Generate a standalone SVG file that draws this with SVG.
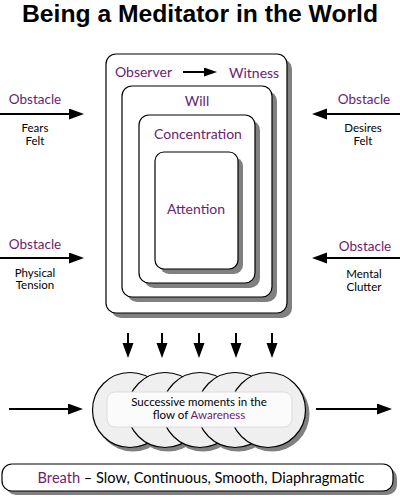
<svg xmlns="http://www.w3.org/2000/svg" width="400" height="499" viewBox="0 0 400 499">
<style>
text{font-family:Lato,"Open Sans","Liberation Sans",sans-serif;}
.t{font-family:"Liberation Sans",Arial,sans-serif;font-size:23px;font-weight:bold;fill:#000;}
.p{fill:#6b2370;font-size:14px;}
.ob{fill:#6b2370;font-size:13.5px;}
.s{fill:#000;font-size:11.5px;}
.box{fill:#fff;stroke:#000;stroke-width:1.2;}
.sh{fill:#808080;}
.ar{stroke:#000;stroke-width:2;fill:none;}
.cir{fill:#efefef;stroke:#000;stroke-width:1.2;}
</style>
<defs>
<marker id="ah" markerUnits="userSpaceOnUse" markerWidth="16" markerHeight="12" refX="8" refY="5.5" orient="auto">
<path d="M0,0 L15,5.5 L0,11 z" fill="#000"/>
</marker>
<marker id="ahs" markerUnits="userSpaceOnUse" markerWidth="14" markerHeight="10" refX="7" refY="4.5" orient="auto">
<path d="M0,0 L13,4.5 L0,9 z" fill="#000"/>
</marker>
</defs>
<rect width="400" height="499" fill="#fff"/>
<text class="t" x="200" y="22" text-anchor="middle" textLength="356" lengthAdjust="spacingAndGlyphs">Being a Meditator in the World</text>

<g id="observer-box">
<rect class="sh" x="111" y="59" width="181" height="259" rx="10"/>
<rect class="box" x="106" y="54" width="181" height="259" rx="10"/>
<text class="p" x="115" y="77">Observer</text>
<text class="p" x="229" y="78">Witness</text>
</g>
<g id="will-box">
<rect class="sh" x="127" y="91" width="150" height="211" rx="10"/>
<rect class="box" x="122" y="86" width="150" height="211" rx="10"/>
<text class="p" x="197" y="106" text-anchor="middle">Will</text>
</g>
<g id="concentration-box">
<rect class="sh" x="144" y="120" width="116" height="168" rx="10"/>
<rect class="box" x="139" y="115" width="116" height="168" rx="10"/>
<text class="p" x="198" y="139" text-anchor="middle">Concentration</text>
</g>
<g id="attention-box">
<rect class="sh" x="160" y="157" width="83" height="117" rx="9"/>
<rect class="box" x="155" y="152" width="83" height="117" rx="9"/>
<text class="p" x="196" y="214" text-anchor="middle">Attention</text>
</g>

<g id="obstacle-fears">
<text class="ob" x="35" y="104" text-anchor="middle">Obstacle</text>
<text class="s" x="35" y="132" text-anchor="middle">Fears</text>
<text class="s" x="35" y="145" text-anchor="middle">Felt</text>
</g>
<g id="obstacle-desires">
<text class="ob" x="364" y="104" text-anchor="middle">Obstacle</text>
<text class="s" x="363" y="132" text-anchor="middle">Desires</text>
<text class="s" x="363" y="145" text-anchor="middle">Felt</text>
</g>
<g id="obstacle-physical">
<text class="ob" x="35" y="249" text-anchor="middle">Obstacle</text>
<text class="s" x="35" y="277" text-anchor="middle">Physical</text>
<text class="s" x="35" y="289" text-anchor="middle">Tension</text>
</g>
<g id="obstacle-mental">
<text class="ob" x="365" y="251" text-anchor="middle">Obstacle</text>
<text class="s" x="364" y="278" text-anchor="middle">Mental</text>
<text class="s" x="364" y="291" text-anchor="middle">Clutter</text>
</g>

<g id="awareness-flow">
<circle class="sh" cx="133" cy="414" r="37.5"/>
<circle class="sh" cx="168" cy="414" r="37.5"/>
<circle class="sh" cx="203" cy="414" r="37.5"/>
<circle class="sh" cx="238" cy="414" r="37.5"/>
<circle class="sh" cx="272" cy="414" r="37.5"/>
<circle class="cir" cx="130" cy="410" r="37.5"/>
<circle class="cir" cx="165" cy="410" r="37.5"/>
<circle class="cir" cx="200" cy="410" r="37.5"/>
<circle class="cir" cx="235" cy="410" r="37.5"/>
<circle class="cir" cx="268" cy="410" r="37.5"/>
<rect x="107" y="392" width="185" height="35" rx="8" fill="#fbfbfb" stroke="#dcdcdc" stroke-width="1"/>
<text class="s" x="199" y="406" text-anchor="middle">Successive moments in the</text>
<text class="s" x="199" y="419" text-anchor="middle">flow of <tspan fill="#6b2370">Awareness</tspan></text>
</g>

<g id="breath">
<rect class="sh" x="6" y="468" width="391" height="27" rx="10"/>
<rect class="box" x="2" y="464" width="391" height="27" rx="10"/>
<text x="201" y="483" text-anchor="middle" font-size="14.6" fill="#000"><tspan fill="#6b2370">Breath</tspan> – Slow, Continuous, Smooth, Diaphragmatic</text>
</g>

<g id="connectors">
<line class="ar" x1="183" y1="72" x2="211" y2="72" marker-end="url(#ahs)"/>
<line class="ar" x1="0" y1="114" x2="77" y2="114" marker-end="url(#ah)"/>
<line class="ar" x1="400" y1="114" x2="319" y2="114" marker-end="url(#ah)"/>
<line class="ar" x1="0" y1="258" x2="77" y2="258" marker-end="url(#ah)"/>
<line class="ar" x1="400" y1="258" x2="319" y2="258" marker-end="url(#ah)"/>
<line class="ar" x1="128" y1="333" x2="128" y2="351" marker-end="url(#ah)"/>
<line class="ar" x1="162" y1="333" x2="162" y2="351" marker-end="url(#ah)"/>
<line class="ar" x1="199" y1="333" x2="199" y2="351" marker-end="url(#ah)"/>
<line class="ar" x1="236" y1="333" x2="236" y2="351" marker-end="url(#ah)"/>
<line class="ar" x1="272" y1="333" x2="272" y2="351" marker-end="url(#ah)"/>
<line class="ar" x1="9" y1="409" x2="76" y2="409" marker-end="url(#ah)"/>
<line class="ar" x1="316" y1="409" x2="385" y2="409" marker-end="url(#ah)"/>
</g>
</svg>
